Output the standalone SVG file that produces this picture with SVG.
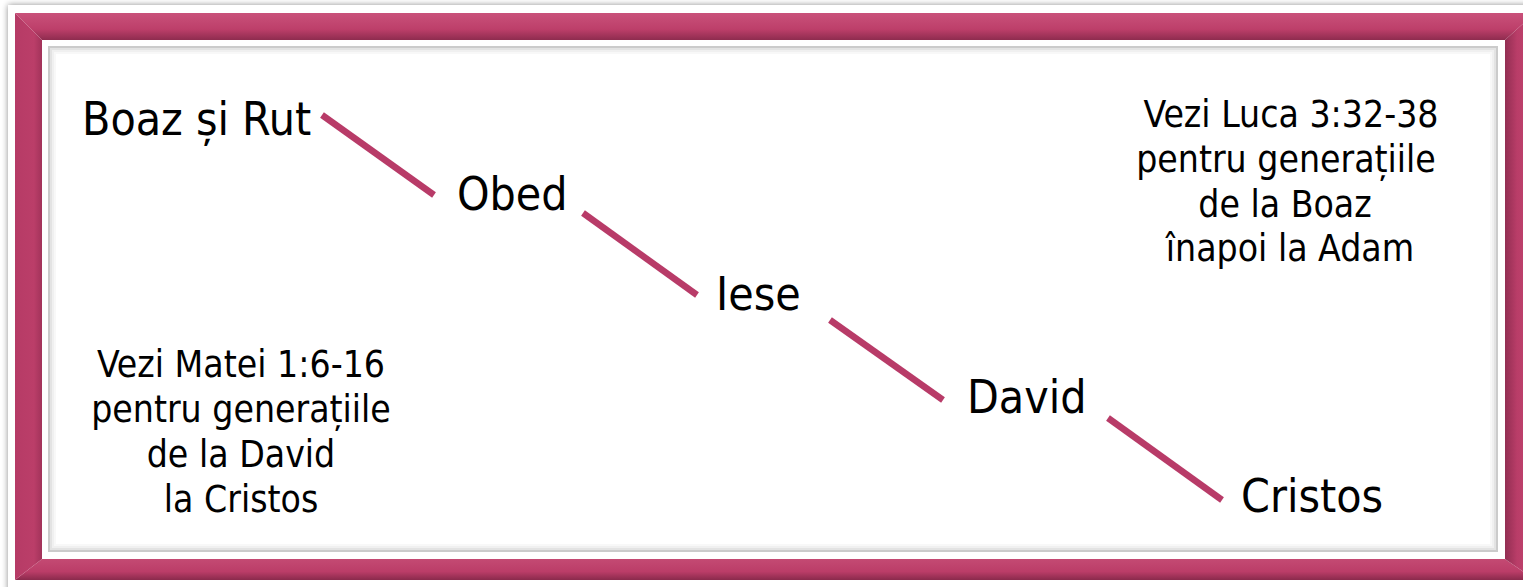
<svg xmlns="http://www.w3.org/2000/svg" width="1523" height="587" viewBox="0 0 1523 587">
<defs>
<style>
.lbl{font-family:"DejaVu Sans Condensed","DejaVu Sans","Liberation Sans",sans-serif;font-stretch:condensed;fill:#000}
.big{font-size:46px}
.note{font-size:37px;text-anchor:middle}
.conn{stroke:#b83b68;stroke-width:6.5;stroke-linecap:butt;fill:none}
</style>
<filter id="sh" x="-5%" y="-5%" width="110%" height="110%">
<feGaussianBlur in="SourceAlpha" stdDeviation="3"/>
<feOffset dx="0" dy="0"/>
<feComponentTransfer><feFuncA type="linear" slope="0.45"/></feComponentTransfer>
<feMerge><feMergeNode/><feMergeNode in="SourceGraphic"/></feMerge>
</filter>
<linearGradient id="gTop" x1="0" y1="0" x2="0" y2="1">
<stop offset="0" stop-color="#c9517a"/><stop offset="0.6" stop-color="#bd3f6a"/><stop offset="1" stop-color="#8e2c4f"/>
</linearGradient>
<linearGradient id="gBot" x1="0" y1="0" x2="0" y2="1">
<stop offset="0" stop-color="#c44a73"/><stop offset="0.6" stop-color="#bb3d68"/><stop offset="1" stop-color="#8a2a4c"/>
</linearGradient>
<linearGradient id="gLeft" x1="0" y1="0" x2="1" y2="0">
<stop offset="0" stop-color="#b63b66"/><stop offset="0.7" stop-color="#bb3e69"/><stop offset="1" stop-color="#a2335a"/>
</linearGradient>
<linearGradient id="gRight" x1="0" y1="0" x2="1" y2="0">
<stop offset="0" stop-color="#922e52"/><stop offset="0.4" stop-color="#b93d68"/><stop offset="1" stop-color="#c24670"/>
</linearGradient>
</defs>
<rect width="1523" height="587" fill="#ffffff"/>
<g id="frame">
<rect x="8" y="5" width="1530" height="590" fill="#ffffff" filter="url(#sh)"/>
<polygon points="15,13 1535,13 1505,40 42,40" fill="url(#gTop)"/>
<polygon points="15,580 1535,580 1505,559 42,559" fill="url(#gBot)"/>
<polygon points="15,13 42,40 42,559 15,580" fill="url(#gLeft)"/>
<polygon points="1535,13 1505,40 1505,559 1535,580" fill="url(#gRight)"/>
<rect x="42" y="40" width="1463" height="519" fill="#ffffff"/>
<rect x="48" y="46" width="1450" height="506" fill="#ffffff"/>
<rect x="49" y="47" width="1448" height="504" fill="none" stroke="#a8a8a8" stroke-width="2" opacity="0.6"/>
<rect x="51" y="49" width="1444" height="500" fill="none" stroke="#c8c8c8" stroke-width="2" opacity="0.5"/>
<rect x="53" y="51" width="1440" height="496" fill="none" stroke="#e2e2e2" stroke-width="2" opacity="0.5"/>
<rect x="55" y="53" width="1436" height="492" fill="none" stroke="#f2f2f2" stroke-width="2" opacity="0.5"/>
</g>
<g id="connectors">
<line class="conn" x1="322" y1="115" x2="434" y2="195"/>
<line class="conn" x1="583" y1="213" x2="697" y2="295"/>
<line class="conn" x1="830" y1="320" x2="943" y2="400"/>
<line class="conn" x1="1108" y1="418" x2="1222" y2="500"/>
</g>
<g id="boaz"><text class="lbl big" x="82" y="135">Boaz și Rut</text></g>
<g id="obed"><text class="lbl big" x="457" y="210">Obed</text></g>
<g id="iese"><text class="lbl big" x="716" y="310">Iese</text></g>
<g id="david"><text class="lbl big" x="967" y="413">David</text></g>
<g id="cristos"><text class="lbl big" x="1241" y="512">Cristos</text></g>
<g id="note-luca">
<text class="lbl note" x="1291" y="127">Vezi Luca 3:32-38</text>
<text class="lbl note" x="1286" y="172">pentru generațiile</text>
<text class="lbl note" x="1285" y="217">de la Boaz</text>
<text class="lbl note" x="1290" y="261">înapoi la Adam</text>
</g>
<g id="note-matei">
<text class="lbl note" x="241" y="377">Vezi Matei 1:6-16</text>
<text class="lbl note" x="241" y="422">pentru generațiile</text>
<text class="lbl note" x="241" y="467">de la David</text>
<text class="lbl note" x="241" y="512">la Cristos</text>
</g>
</svg>
